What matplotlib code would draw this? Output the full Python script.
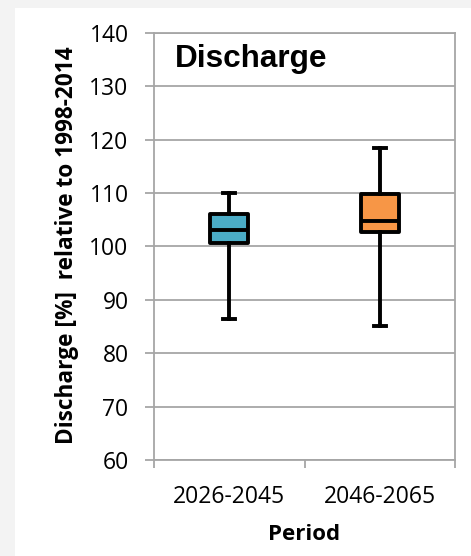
import matplotlib
matplotlib.use("Agg")
import matplotlib.pyplot as plt
from matplotlib.patches import Rectangle

periods = ["2026-2045", "2046-2065"]
whisker_low = [86.4, 85.0]
q1 = [100.6, 102.7]
median = [103.0, 104.8]
q3 = [106.1, 109.8]
whisker_high = [110.0, 118.4]
box_colors = ["#4BACC6", "#F79646"]
yticks = [60, 70, 80, 90, 100, 110, 120, 130, 140]

W, H = 471, 556
fig = plt.figure(figsize=(W / 100, H / 100), dpi=100, facecolor="#f3f3f3")
fig.patches.append(Rectangle((15 / W, 0), 1 - 15 / W, (H - 8) / H, transform=fig.transFigure,
                             facecolor="white", edgecolor="none", zorder=-10))

ax_left, ax_right, ax_top, ax_bottom = 154, 455, 32.7, 460
ax = fig.add_axes([ax_left / W, (H - ax_bottom) / H, (ax_right - ax_left) / W,
                   (ax_bottom - ax_top) / H])
ax.set_facecolor("white")

stats = []
for i in range(len(periods)):
    stats.append(dict(med=median[i], q1=q1[i], q3=q3[i], whislo=whisker_low[i],
                      whishi=whisker_high[i], fliers=[], label=periods[i]))

lw = 2.8
bp = ax.bxp(stats, positions=range(len(periods)), widths=0.255, patch_artist=True,
            showfliers=False, capwidths=0.08,
            boxprops=dict(linewidth=lw, edgecolor="black", joinstyle="round"),
            medianprops=dict(color="black", linewidth=lw),
            whiskerprops=dict(color="black", linewidth=lw),
            capprops=dict(color="black", linewidth=lw), zorder=3)
for patch, c in zip(bp["boxes"], box_colors):
    patch.set_facecolor(c)

ax.set_xlim(-0.5, len(periods) - 0.5)
ax.set_ylim(60, 140)
ax.set_yticks(yticks)
ax.yaxis.grid(True, color="#a6a6a6", linewidth=1.3, zorder=0)
ax.set_axisbelow(True)

for s in ax.spines.values():
    s.set_color("#a6a6a6")
    s.set_linewidth(1.3)

ax.tick_params(axis="y", direction="out", length=6.3, width=1.3, color="#a6a6a6",
               labelsize=16.5, pad=12, labelcolor="black")
ax.set_xticks(range(len(periods)))
ax.set_xticklabels(periods)
ax.tick_params(axis="x", which="major", length=0, labelsize=16.5, pad=18, labelcolor="black")
ax.set_xticks([-0.5, 0.5, 1.5], minor=True)
ax.tick_params(axis="x", which="minor", direction="out", length=6, width=1.3, color="#a6a6a6")

for lab in ax.get_xticklabels() + ax.get_yticklabels():
    lab.set_fontfamily("Open Sans")

fig.text(67 / W, 1 - 245.5 / H, "Discharge [%]  relative to 1998-2014", rotation=90,
         fontsize=16.3, fontweight="bold", fontfamily="Open Sans", ha="center", va="center")
fig.text(304 / W, 1 - 535 / H, "Period", fontsize=16, fontweight="bold",
         fontfamily="Open Sans", ha="center", va="center")

ax.text(0.07, (ax_bottom - 67.3) / (ax_bottom - ax_top), "Discharge", transform=ax.transAxes,
        fontsize=22.7, fontweight="bold", fontfamily="Liberation Sans",
        va="baseline", ha="left")

fig.savefig("out.png", dpi=100, facecolor=fig.get_facecolor())
